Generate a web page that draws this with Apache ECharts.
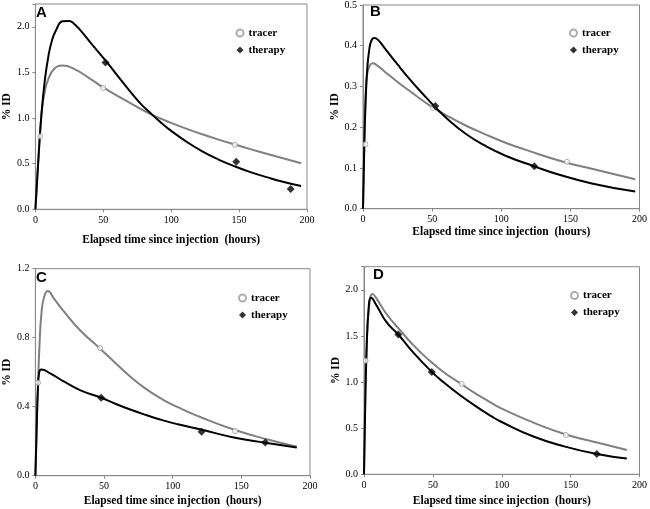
<!DOCTYPE html>
<html>
<head>
<meta charset="utf-8">
<script src="https://cdn.jsdelivr.net/npm/echarts@6/dist/echarts.min.js"></script>
<style>html,body{margin:0;padding:0;background:#fff;}#c{width:650px;height:509px;}</style>
</head>
<body>
<div id="c"></div>
<script>
// ---------- data ----------
const panelLetters = ['A', 'B', 'C', 'D'];
const xTicks = [0, 50, 100, 150, 200];
const yMax = [2.25, 0.5, 1.2, 2.25];
const yInterval = [0.5, 0.1, 0.4, 0.5];

// Panel A
const aTracerCurve = [[0,0],[2,0.5],[4.5,1.05],[7,1.3],[9.6,1.43],[13.9,1.54],[20,1.575],[28.4,1.54],[40.4,1.43],[50.5,1.33],[64.4,1.21],[76.4,1.11],[86.1,1.035],[100,0.947],[110.9,0.885],[122.9,0.822],[134.9,0.764],[146.9,0.71],[158.9,0.657],[170.9,0.606],[183,0.556],[195.7,0.505]];
const aTherapyCurve = [[0,0],[2,0.5],[4.5,1.05],[7,1.42],[9.6,1.68],[12,1.84],[15.1,1.96],[20,2.06],[24.8,2.065],[28,2.04],[33.2,1.96],[40.4,1.83],[52.9,1.607],[64.4,1.39],[76.4,1.175],[86.1,1.035],[93.3,0.94],[100,0.86],[110.9,0.745],[122.9,0.635],[134.9,0.545],[146.9,0.47],[158.9,0.405],[170.9,0.35],[183,0.30],[195.7,0.255]];
const aTracerPts = [[3.6,0.80],[49.9,1.33],[146.9,0.707]];
const aTherapyPts = [[51.6,1.61],[147.9,0.52],[188,0.222]];

// Panel B
const bTracerCurve = [[0,0],[1,0.16],[1.7,0.265],[3,0.33],[5,0.352],[7.1,0.357],[10,0.352],[15.5,0.337],[25,0.311],[34.5,0.287],[49.3,0.251],[63.1,0.224],[75,0.203],[86.9,0.185],[103.1,0.162],[117.3,0.145],[146,0.114],[165.5,0.098],[196.9,0.0725]];
const bTherapyCurve = [[0,0],[1,0.17],[2,0.27],[3,0.34],[4.5,0.39],[6,0.412],[8,0.419],[10.7,0.415],[15.5,0.395],[25,0.354],[34.5,0.315],[44,0.279],[51.2,0.253],[63.1,0.214],[75,0.182],[86.9,0.157],[103.1,0.13],[123.9,0.104],[141.4,0.084],[165.5,0.062],[196.9,0.042]];
const bTracerPts = [[1.7,0.158],[50.6,0.2475],[147.5,0.115]];
const bTherapyPts = [[52.3,0.252],[123.9,0.104]];

// Panel C
const cTracerCurve = [[0,0],[1,0.3],[2,0.55],[3,0.76],[4.5,0.95],[6.5,1.04],[9,1.071],[13.8,1.023],[21,0.95],[32.9,0.84],[46,0.745],[56.7,0.665],[68.6,0.578],[80.5,0.503],[92.4,0.443],[103.8,0.397],[121.4,0.336],[145.4,0.265],[169.3,0.21],[190.4,0.168]];
const cTherapyCurve = [[0,0],[1,0.3],[1.8,0.5],[2.8,0.6],[4.3,0.615],[11.4,0.59],[21,0.545],[32.9,0.495],[47.9,0.452],[56.7,0.422],[68.6,0.385],[80.5,0.352],[92.4,0.322],[103.8,0.298],[121.4,0.266],[145.4,0.22],[167.4,0.191],[190.4,0.163]];
const cTracerPts = [[1.9,0.539],[47.2,0.74],[145.4,0.259]];
const cTherapyPts = [[47.9,0.452],[121,0.255],[167.4,0.193]];

// Panel D
const dTracerCurve = [[0,0],[0.7,0.674],[1.9,1.399],[3.8,1.833],[6.2,1.953],[9,1.906],[16.2,1.74],[25.7,1.57],[35.2,1.41],[44.8,1.27],[56.7,1.12],[70,0.985],[80.5,0.88],[92.4,0.775],[98.8,0.72],[123,0.56],[146.6,0.432],[171.4,0.336],[190.8,0.264]];
const dTherapyCurve = [[0,0],[0.7,0.6],[1.9,1.35],[3.6,1.85],[5,1.913],[9,1.833],[16.2,1.652],[24.9,1.515],[35.2,1.33],[49.2,1.11],[56.7,1.01],[68.6,0.87],[80.5,0.745],[92.4,0.63],[98.8,0.575],[123,0.41],[146,0.3],[169,0.22],[190.8,0.17]];
const dTracerPts = [[1.2,1.232],[70.9,0.98],[146.6,0.426]];
const dTherapyPts = [[24.9,1.515],[49.2,1.11],[169,0.22]];

const tracerCurves = [aTracerCurve, bTracerCurve, cTracerCurve, dTracerCurve];
const therapyCurves = [aTherapyCurve, bTherapyCurve, cTherapyCurve, dTherapyCurve];
const tracerPts = [aTracerPts, bTracerPts, cTracerPts, dTracerPts];
const therapyPts = [aTherapyPts, bTherapyPts, cTherapyPts, dTherapyPts];
const legendNames = ['tracer', 'therapy'];
const xTitle = 'Elapsed time since injection  (hours)';
const yTitle = '% ID';

// ---------- layout ----------
const grids = [
  {left: 29, top: 4, width: 278, height: 205.3},
  {left: 363, top: 4, width: 277, height: 204.7},
  {left: 31, top: 268.7, width: 279, height: 207},
  {left: 364, top: 266.7, width: 277, height: 207.6}
];
const xNameGap = [25, 15.5, 19, 21];
const yNameGap = [18.5, 20.5, 19.5, 20.5];
const legendPos = [[235.5, 27.5], [569, 27.5], [238, 292.5], [570, 290]];
const letterPos = [[36, 5], [370, 4], [36, 270], [373, 267]];

const serif = 'Liberation Serif';
const axisColor = '#888';
const grayCurve = '#808080';

const option = {
  animation: false,
  backgroundColor: '#fff',
  title: panelLetters.map((t, i) => ({
    text: t, left: letterPos[i][0], top: letterPos[i][1], padding: 0,
    textStyle: {fontFamily: 'Liberation Sans', fontWeight: 'bold', fontSize: 15, color: '#000'}
  })),
  legend: legendPos.map(p => ({
    data: legendNames, orient: 'vertical', left: p[0], top: p[1],
    itemWidth: 7, itemHeight: 7, itemGap: 6, selectedMode: false, padding: 0,
    textStyle: {fontFamily: serif, fontWeight: 'bold', fontSize: 11, color: '#000'}
  })),
  grid: grids.map(g => Object.assign({show: true, borderColor: axisColor, borderWidth: 1, containLabel: false}, g)),
  xAxis: grids.map((g, i) => ({
    type: 'value', gridIndex: i, min: xTicks[0], max: xTicks[xTicks.length - 1], interval: 50,
    axisLine: {show: true, lineStyle: {color: axisColor, width: 1}},
    axisTick: {show: true, length: 3, lineStyle: {color: axisColor}},
    splitLine: {show: false},
    axisLabel: {fontFamily: serif, fontSize: 10, color: '#000', margin: 6},
    name: xTitle, nameLocation: 'middle', nameGap: xNameGap[i],
    nameTextStyle: {fontFamily: serif, fontWeight: 'bold', fontSize: 11.5, color: '#000'}
  })),
  yAxis: grids.map((g, i) => ({
    type: 'value', gridIndex: i, min: 0, max: yMax[i], interval: yInterval[i],
    axisLine: {show: true, lineStyle: {color: axisColor, width: 1}},
    axisTick: {show: true, length: 3, lineStyle: {color: axisColor}},
    splitLine: {show: false},
    axisLabel: {
      fontFamily: serif, fontSize: 10, color: '#000', margin: 6,
      formatter: v => {
        const r = v / yInterval[i];
        return Math.abs(r - Math.round(r)) < 1e-6 ? v.toFixed(1) : '';
      }
    },
    name: yTitle, nameLocation: 'middle', nameGap: yNameGap[i],
    nameTextStyle: {fontFamily: serif, fontWeight: 'bold', fontSize: 11.5, color: '#000'}
  })),
  series: []
};

for (let i = 0; i < 4; i++) {
  option.series.push({
    name: 'tracer fit', type: 'line', xAxisIndex: i, yAxisIndex: i, data: tracerCurves[i],
    showSymbol: false, smooth: 0.5, silent: true,
    lineStyle: {color: grayCurve, width: 2}, itemStyle: {color: grayCurve}, z: 2
  });
  option.series.push({
    name: 'therapy fit', type: 'line', xAxisIndex: i, yAxisIndex: i, data: therapyCurves[i],
    showSymbol: false, smooth: 0.5, silent: true,
    lineStyle: {color: '#000', width: 2}, itemStyle: {color: '#000'}, z: 3
  });
  option.series.push({
    name: 'tracer', type: 'scatter', xAxisIndex: i, yAxisIndex: i, data: tracerPts[i],
    symbol: 'circle', symbolSize: 5,
    itemStyle: {color: '#fff', borderColor: '#999', borderWidth: 1}, z: 4
  });
  option.series.push({
    name: 'therapy', type: 'scatter', xAxisIndex: i, yAxisIndex: i, data: therapyPts[i],
    symbol: 'diamond', symbolSize: 8,
    itemStyle: {color: '#000'}, z: 5
  });
}

const chart = echarts.init(document.getElementById('c'), null, {renderer: 'canvas'});
chart.setOption(option);
</script>
</body>
</html>
